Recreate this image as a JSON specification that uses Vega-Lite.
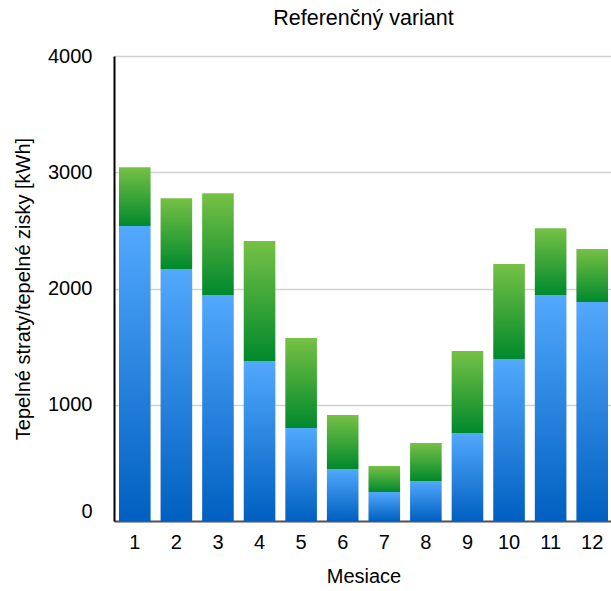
{
  "$schema": "https://vega.github.io/schema/vega-lite/v6.json",
  "autosize": "none",
  "width": 499,
  "height": 465,
  "padding": {"left": 114, "top": 56, "right": 0, "bottom": 70},
  "background": "white",
  "title": {"text": "Referenčný variant", "font": "Liberation Sans", "fontSize": 21.5, "fontWeight": "normal", "color": "#000000", "offset": 17},
  "data": {"values": [
    {"mesiac": 1, "straty": 2537, "spolu": 3044},
    {"mesiac": 2, "straty": 2167, "spolu": 2777},
    {"mesiac": 3, "straty": 1943, "spolu": 2820},
    {"mesiac": 4, "straty": 1376, "spolu": 2408},
    {"mesiac": 5, "straty": 800, "spolu": 1574},
    {"mesiac": 6, "straty": 447, "spolu": 911},
    {"mesiac": 7, "straty": 249, "spolu": 473},
    {"mesiac": 8, "straty": 344, "spolu": 671},
    {"mesiac": 9, "straty": 757, "spolu": 1462},
    {"mesiac": 10, "straty": 1393, "spolu": 2210},
    {"mesiac": 11, "straty": 1943, "spolu": 2519},
    {"mesiac": 12, "straty": 1883, "spolu": 2339}
  ]},
  "encoding": {
    "x": {
      "field": "mesiac", "type": "ordinal", "title": "Mesiace",
      "scale": {"paddingInner": 0.24, "paddingOuter": 0.12},
      "axis": {"labelAngle": 0, "ticks": false, "labelPadding": 11, "titlePadding": 14,
               "domainColor": "#555555", "domainWidth": 2,
               "labelFont": "Liberation Sans", "labelFontSize": 20, "labelColor": "#000000",
               "titleFont": "Liberation Sans", "titleFontSize": 20, "titleFontWeight": "normal", "titleColor": "#000000"}
    }
  },
  "layer": [
    {
      "mark": {"type": "bar", "color": {"gradient": "linear", "x1": 0, "y1": 0, "x2": 0, "y2": 1,
        "stops": [{"offset": 0, "color": "#52a9fd"}, {"offset": 1, "color": "#005fc0"}]}},
      "encoding": {
        "y": {"field": "straty", "type": "quantitative", "title": "Tepelné straty/tepelné zisky [kWh]",
          "scale": {"domain": [0, 4000], "nice": false},
          "axis": {"values": [0, 1000, 2000, 3000, 4000], "format": "d", "ticks": false, "labelPadding": 22, "titlePadding": 14,
                   "domainColor": "#000000", "domainWidth": 2,
                   "gridColor": "#d2d2d2", "gridWidth": 1.5,
                   "labelBaseline": {"condition": {"test": "datum.value == 0", "value": "bottom"}, "value": "middle"},
                   "labelFont": "Liberation Sans", "labelFontSize": 20, "labelColor": "#000000",
                   "titleFont": "Liberation Sans", "titleFontSize": 20, "titleFontWeight": "normal", "titleColor": "#000000"}}
      }
    },
    {
      "mark": {"type": "bar", "color": {"gradient": "linear", "x1": 0, "y1": 0, "x2": 0, "y2": 1,
        "stops": [{"offset": 0, "color": "#76c145"}, {"offset": 1, "color": "#00892c"}]}},
      "encoding": {
        "y": {"field": "straty", "type": "quantitative"},
        "y2": {"field": "spolu"}
      }
    }
  ]
}
